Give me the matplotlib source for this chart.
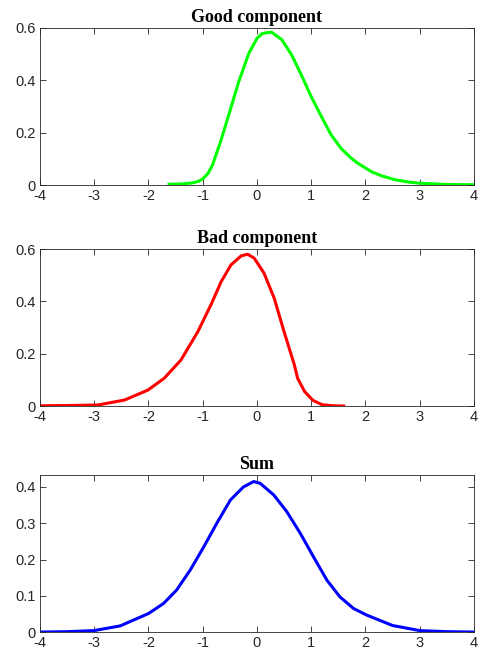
import numpy as np
import matplotlib.pyplot as plt

# values
good_x = [-1.62, -1.4, -1.19, -1.08, -1.0, -0.9, -0.82, -0.67, -0.52, -0.335, -0.15, 0.0, 0.09, 0.18, 0.27,
          0.46, 0.64, 0.82, 1.0, 1.19, 1.37, 1.55, 1.74, 1.86, 2.12, 2.3, 2.55, 2.8, 3.0,
          3.5, 4.0]
good_y = [0.003, 0.004, 0.008, 0.014, 0.023, 0.045, 0.076, 0.166, 0.268, 0.395, 0.503, 0.56, 0.578, 0.582, 0.584,
          0.555, 0.497, 0.42, 0.338, 0.261, 0.191, 0.14, 0.102, 0.083, 0.05, 0.035, 0.02, 0.011, 0.007,
          0.002, 0.001]

bad_x = [-4.0, -3.5, -2.93, -2.44, -2.01, -1.71, -1.40, -1.09, -0.85, -0.66, -0.48, -0.29,
         -0.17, -0.05, 0.13, 0.32, 0.50, 0.69, 0.75, 0.88, 1.03, 1.2, 1.4, 1.6]
bad_y = [0.001, 0.002, 0.004, 0.023, 0.061, 0.106, 0.176, 0.284, 0.386, 0.475, 0.539, 0.574,
         0.58, 0.565, 0.508, 0.411, 0.284, 0.157, 0.106, 0.055, 0.022, 0.005, 0.001, 0.0]

sum_x = [-4.0, -3.5, -3.0, -2.52, -2.0, -1.72, -1.48, -1.23, -0.98, -0.74, -0.49, -0.25,
         -0.06, 0.06, 0.31, 0.55, 0.80, 1.04, 1.29, 1.53, 1.78, 2.02, 2.5, 3.0, 3.5, 4.0]
sum_y = [0.0, 0.001, 0.004, 0.017, 0.051, 0.079, 0.116, 0.171, 0.235, 0.30, 0.364, 0.40,
         0.415, 0.41, 0.378, 0.332, 0.272, 0.208, 0.143, 0.097, 0.065, 0.047, 0.018, 0.004, 0.001, 0.0]

xticks = [-4, -3, -2, -1, 0, 1, 2, 3, 4]

fig = plt.figure(figsize=(4.8, 6.57), dpi=100)

panels = [
    ('Good component', good_x, good_y, (0, 1, 0), [0, 0.6], [0, 0.2, 0.4, 0.6], 0.7184),
    ('Bad component', bad_x, bad_y, (1, 0, 0), [0, 0.6], [0, 0.2, 0.4, 0.6], 0.382),
    ('Sum', sum_x, sum_y, (0, 0, 1), [0, 0.433], [0, 0.1, 0.2, 0.3, 0.4], 0.038),
]

for title, x, y, col, ylim, yt, bottom in panels:
    ax = fig.add_axes([0.0833, bottom, 0.904, 0.239])
    ax.plot(x, y, color=col, linewidth=2.2, solid_joinstyle='round')
    ax.set_xlim(-4, 4)
    ax.set_ylim(*ylim)
    ax.set_xticks(xticks)
    ax.set_xticklabels([str(t) for t in xticks], fontfamily='Liberation Sans', fontsize=10.5)
    ax.set_yticks(yt)
    ax.set_yticklabels(['0' if v == 0 else str(v) for v in yt], fontfamily='Liberation Sans', fontsize=10.5)
    ax.tick_params(direction='in', top=True, right=True, length=4, width=0.6, colors='#262626', pad=3)
    for s in ax.spines.values():
        s.set_linewidth(0.6)
        s.set_color('#262626')
    ax.set_title(title, fontfamily='Liberation Serif', fontweight='bold', fontsize=13, pad=4)

plt.savefig('out.png', dpi=100)
